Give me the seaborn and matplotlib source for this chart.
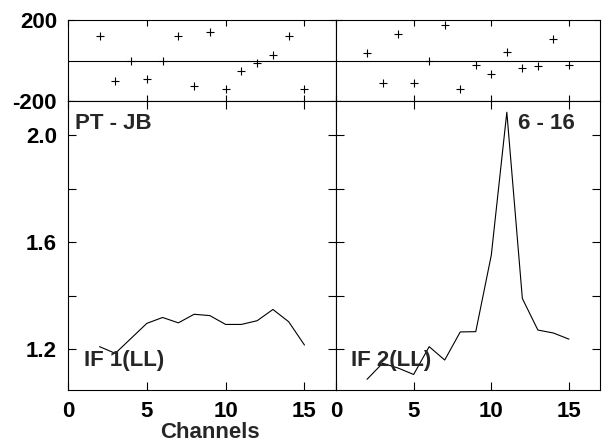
import numpy as np
import seaborn as sns
import matplotlib
matplotlib.use("Agg")
import matplotlib.pyplot as plt

# channel numbers shared by both IFs
channels = [2, 3, 4, 5, 6, 7, 8, 9, 10, 11, 12, 13, 14, 15]

# phases (deg)
phase_if1 = [123, -102, 0, -89, 0, 120, -124, 142, -140, -53, -11, 26, 120, -143]
phase_if2 = [36, -110, 132, -110, 0, 174, -143, -23, -69, 44, -36, -28, 105, -20]

# amplitudes
amp_if1 = [1.209, 1.184, 1.240, 1.296, 1.318, 1.298, 1.330, 1.325, 1.292, 1.292,
           1.306, 1.348, 1.302, 1.215]
amp_if2 = [1.087, 1.147, 1.129, 1.105, 1.209, 1.159, 1.264, 1.265, 1.551, 2.085,
           1.389, 1.271, 1.260, 1.237]

baseline_label = "PT - JB"
time_label = "6 - 16"
if_labels = ["IF 1(LL)", "IF 2(LL)"]

sns.set_style("ticks")
plt.rcParams['font.family'] = ['Liberation Sans', 'DejaVu Sans']
plt.rcParams['font.weight'] = 'bold'
plt.rcParams['axes.linewidth'] = 0.8
plt.rcParams['axes.edgecolor'] = 'black'
plt.rcParams['xtick.color'] = 'black'
plt.rcParams['ytick.color'] = 'black'

W, H = 602, 443
fig = plt.figure(figsize=(W / 100, H / 100), dpi=100)


def box(x0, y0, x1, y1):
    # pixel box -> figure fraction
    return [x0 / W, 1 - y1 / H, (x1 - x0) / W, (y1 - y0) / H]


ax_p1 = fig.add_axes(box(68, 20, 336, 101))
ax_p2 = fig.add_axes(box(336, 20, 600, 101))
ax_a1 = fig.add_axes(box(68, 101, 336, 390))
ax_a2 = fig.add_axes(box(336, 101, 600, 390))

fs = 16

for ax, ph in [(ax_p1, phase_if1), (ax_p2, phase_if2)]:
    sns.scatterplot(x=channels, y=ph, ax=ax, marker='+', color='black',
                    s=30, linewidth=0.8)
    ax.axhline(0, color='black', lw=0.8)
    ax.set_xlim(0, 17)
    ax.set_ylim(-200, 200)
    ax.set_xticks([0, 5, 10, 15])
    ax.set_yticks([-200, 200])
    ax.set_yticklabels(["-200", "200"])
    ax.tick_params(direction='in', length=4, width=0.8, top=True, right=True,
                   labelbottom=False, labelsize=fs, pad=8)

for ax, amp in [(ax_a1, amp_if1), (ax_a2, amp_if2)]:
    sns.lineplot(x=channels, y=amp, ax=ax, color='black', linewidth=0.8)
    ax.set_xlim(0, 17)
    ax.set_ylim(1.047, 2.127)
    ax.set_xticks([0, 5, 10, 15])
    ax.set_yticks([1.2, 1.6, 2.0])
    ax.set_yticks([1.4, 1.8], minor=True)
    ax.tick_params(which='both', direction='in', length=6, width=0.8,
                   top=True, right=True, labelsize=fs, pad=8)

for ax in [ax_p2, ax_a2]:
    ax.tick_params(labelleft=False)

for ax in [ax_p1, ax_p2, ax_a1, ax_a2]:
    ax.set_xlabel("")
    ax.set_ylabel("")
    for lab in ax.get_xticklabels() + ax.get_yticklabels():
        lab.set_fontweight('bold')

ax_a1.text(0.026, 0.903, baseline_label, transform=ax_a1.transAxes,
           fontsize=fs, fontweight='bold', va='baseline', ha='left')
ax_a2.text(0.905, 0.903, time_label, transform=ax_a2.transAxes,
           fontsize=fs, fontweight='bold', va='baseline', ha='right')
ax_a1.text(0.06, 0.083, if_labels[0], transform=ax_a1.transAxes,
           fontsize=fs, fontweight='bold', va='baseline', ha='left')
ax_a2.text(0.056, 0.083, if_labels[1], transform=ax_a2.transAxes,
           fontsize=fs, fontweight='bold', va='baseline', ha='left')

ax_a1.set_xlabel("Channels", fontsize=fs, fontweight='bold')
ax_a1.xaxis.set_label_coords(0.53, -0.11)

fig.savefig("out.png", dpi=100)
